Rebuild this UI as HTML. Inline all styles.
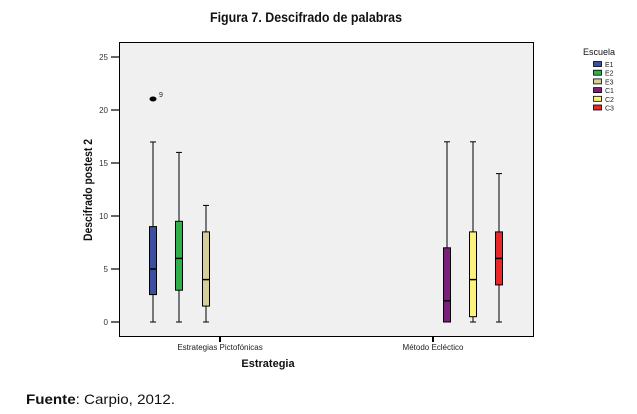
<!DOCTYPE html>
<html><head><meta charset="utf-8"><style>
body{margin:0;background:#fff;width:637px;height:414px;overflow:hidden}
svg{display:block}
</style></head><body>
<svg width="637" height="414" xmlns="http://www.w3.org/2000/svg" font-family="Liberation Sans, Arial, sans-serif">
<text x="210" y="22" font-size="14" font-weight="bold" textLength="192" lengthAdjust="spacingAndGlyphs" fill="#111">Figura 7. Descifrado de palabras</text>
<rect x="119.5" y="42.5" width="414" height="294" fill="#f0f0f0" stroke="#000" stroke-width="1"/>
<g font-size="8" fill="#333" text-anchor="end">
<text x="108" y="325">0</text><text x="108" y="272">5</text><text x="108" y="219">10</text>
<text x="108" y="166">15</text><text x="108" y="113">20</text><text x="108" y="60">25</text>
</g>
<g stroke="#000" stroke-width="1.2">
<line x1="111" y1="322" x2="119" y2="322"/><line x1="111" y1="269" x2="119" y2="269"/>
<line x1="111" y1="216" x2="119" y2="216"/><line x1="111" y1="163" x2="119" y2="163"/>
<line x1="111" y1="110" x2="119" y2="110"/><line x1="111" y1="57" x2="119" y2="57"/>
</g>
<rect x="219" y="337" width="2" height="5" fill="#000"/>
<rect x="432" y="337" width="2" height="5" fill="#000"/>
<text x="92" y="190" font-size="12" font-weight="bold" text-anchor="middle" textLength="102" lengthAdjust="spacingAndGlyphs" transform="rotate(-90 92 190)" fill="#111">Descifrado postest 2</text>
<text x="220" y="350" font-size="8" text-anchor="middle" fill="#222">Estrategias Pictofónicas</text>
<text x="433" y="350" font-size="8" text-anchor="middle" fill="#222">Método Ecléctico</text>
<text x="268" y="367" font-size="11" font-weight="bold" text-anchor="middle" fill="#111">Estrategia</text>
<g stroke="#000" stroke-width="1">
<line x1="153" y1="322" x2="153" y2="142"/><line x1="150" y1="322" x2="156" y2="322"/><line x1="150" y1="142" x2="156" y2="142"/>
<rect x="149.5" y="226.6" width="7" height="68" fill="#3a4fa0"/><line x1="149.5" y1="269" x2="156.5" y2="269" stroke-width="1.5"/>
<line x1="179" y1="322" x2="179" y2="152.4"/><line x1="176" y1="322" x2="182" y2="322"/><line x1="176" y1="152.4" x2="182" y2="152.4"/>
<rect x="175.5" y="221.3" width="7" height="68.9" fill="#2eb14a"/><line x1="175.5" y1="258.4" x2="182.5" y2="258.4" stroke-width="1.5"/>
<line x1="206" y1="322" x2="206" y2="205.4"/><line x1="203" y1="322" x2="209" y2="322"/><line x1="203" y1="205.4" x2="209" y2="205.4"/>
<rect x="202.5" y="231.9" width="7" height="74.2" fill="#d6cf9c"/><line x1="202.5" y1="279.6" x2="209.5" y2="279.6" stroke-width="1.5"/>
<line x1="447" y1="322" x2="447" y2="141.8"/><line x1="444" y1="141.8" x2="450" y2="141.8"/>
<rect x="443.5" y="247.8" width="7" height="74.2" fill="#7a1f7a"/><line x1="443.5" y1="300.8" x2="450.5" y2="300.8" stroke-width="1.5"/>
<line x1="473" y1="322" x2="473" y2="141.8"/><line x1="470" y1="322" x2="476" y2="322"/><line x1="470" y1="141.8" x2="476" y2="141.8"/>
<rect x="469.5" y="231.9" width="7" height="84.8" fill="#fdf37a"/><line x1="469.5" y1="279.6" x2="476.5" y2="279.6" stroke-width="1.5"/>
<line x1="499" y1="322" x2="499" y2="173.6"/><line x1="496" y1="322" x2="502" y2="322"/><line x1="496" y1="173.6" x2="502" y2="173.6"/>
<rect x="495.5" y="231.9" width="7" height="53" fill="#e8272b"/><line x1="495.5" y1="258.4" x2="502.5" y2="258.4" stroke-width="1.5"/>
</g>
<ellipse cx="153" cy="99" rx="3.5" ry="2.5" fill="#000"/>
<text x="159" y="97" font-size="7" fill="#222">9</text>
<text x="583" y="55" font-size="9" fill="#111">Escuela</text>
<g stroke="#000" stroke-width="0.8">
<rect x="593.5" y="61.5" width="8" height="5" fill="#3a4fa0"/>
<rect x="593.5" y="70.2" width="8" height="5" fill="#2eb14a"/>
<rect x="593.5" y="78.9" width="8" height="5" fill="#d6cf9c"/>
<rect x="593.5" y="87.6" width="8" height="5" fill="#7a1f7a"/>
<rect x="593.5" y="96.3" width="8" height="5" fill="#fdf37a"/>
<rect x="593.5" y="105" width="8" height="5" fill="#e8272b"/>
</g>
<g font-size="7" fill="#222">
<text x="605" y="67">E1</text><text x="605" y="75.7">E2</text><text x="605" y="84.4">E3</text>
<text x="605" y="93.1">C1</text><text x="605" y="101.8">C2</text><text x="605" y="110.5">C3</text>
</g>
<text x="26" y="404" font-size="14" fill="#111" textLength="149" lengthAdjust="spacingAndGlyphs"><tspan font-weight="bold">Fuente</tspan>: Carpio, 2012.</text>
</svg>
</body></html>
